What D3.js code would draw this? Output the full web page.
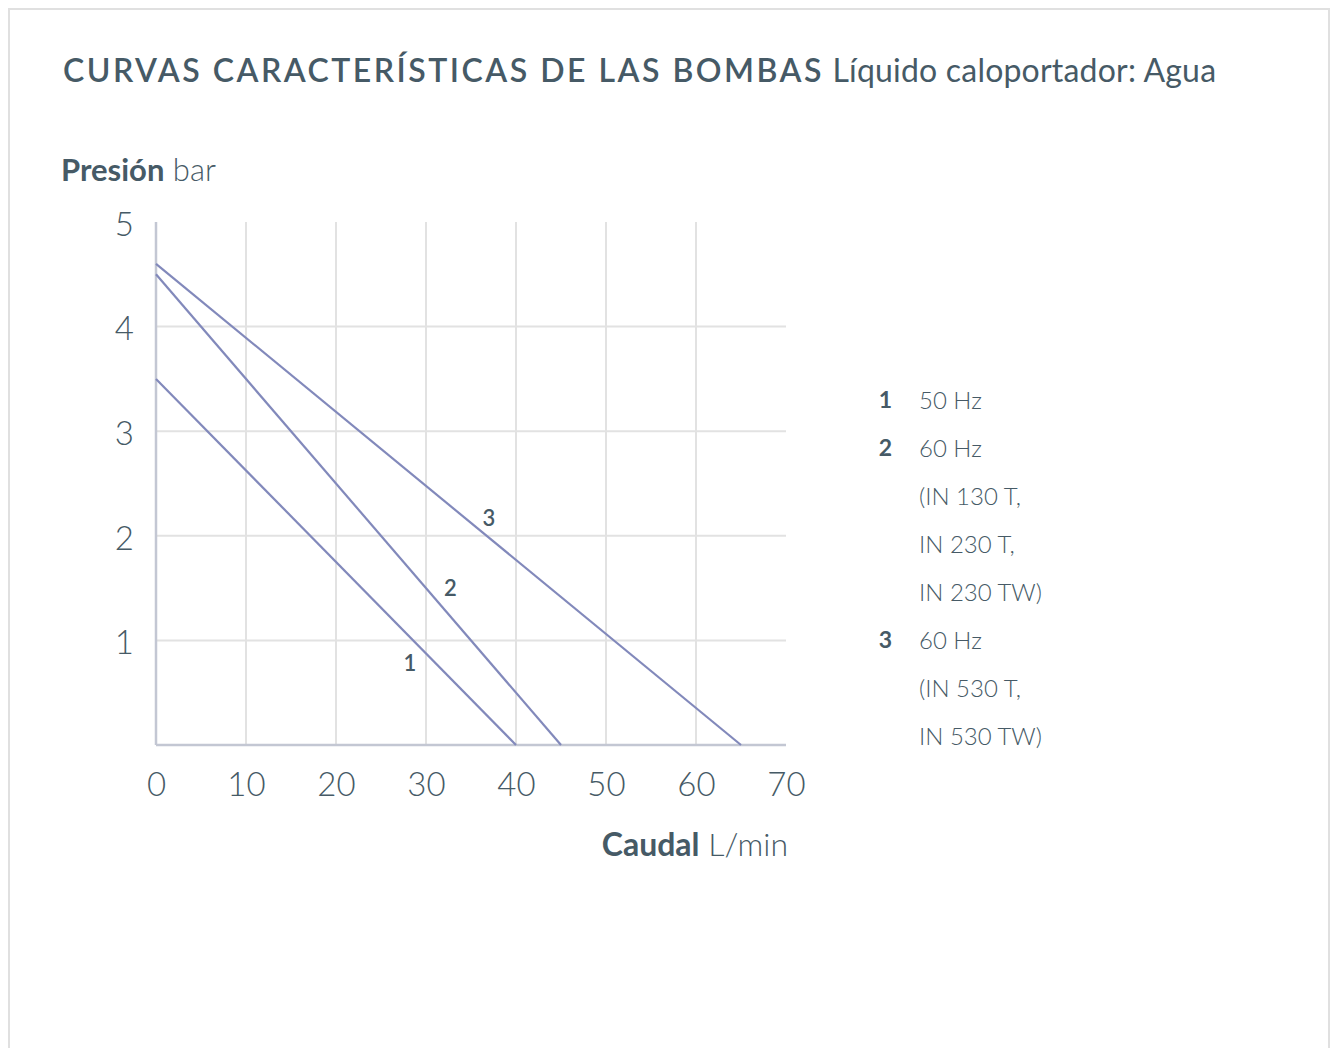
<!DOCTYPE html>
<html>
<head>
<meta charset="utf-8">
<script src="https://cdn.jsdelivr.net/npm/d3@7"></script>
<style>
  html, body { margin: 0; padding: 0; background: #fff; }
  svg { display: block; }
  text { font-family: Lato, "Open Sans", sans-serif; fill: #465a66; }
</style>
</head>
<body>
<svg id="chart" width="1336" height="1048"></svg>
<script>
// ---- data ----
const seriesIds = ["1", "2", "3"];
const seriesFlow = [[0, 40], [0, 45], [0, 65]];          // L/min
const seriesPressure = [[3.5, 0], [4.5, 0], [4.6, 0]];    // bar
const seriesLabelFlow = [28.2, 32.7, 37.0];
const seriesLabelPressure = [0.78, 1.5, 2.17];
const xTicks = [0, 10, 20, 30, 40, 50, 60, 70];
const yTicks = [1, 2, 3, 4, 5];
const legendIds = ["1", "2", "", "", "", "3", "", ""];
const legendTexts = ["50 Hz", "60 Hz", "(IN 130 T,", "IN 230 T,", "IN 230 TW)", "60 Hz", "(IN 530 T,", "IN 530 TW)"];

// ---- layout ----
const svg = d3.select("#chart");
const pLeft = 156, pRight = 786, pTop = 222, pBottom = 745;
const x = d3.scaleLinear().domain([0, 70]).range([pLeft, pRight]);
const y = d3.scaleLinear().domain([0, 5]).range([pBottom, pTop]);
const lineColor = "#8289bb";

// frame
svg.append("path")
  .attr("d", `M9,1048 V9 H1329 V1048`)
  .attr("fill", "none").attr("stroke", "#e0e0e0").attr("stroke-width", 2);

// title
const title = svg.append("text").attr("x", 63).attr("y", 82).style("font-size", "32px");
title.append("tspan").text("CURVAS CARACTERÍSTICAS DE LAS BOMBAS")
  .style("font-weight", 600).style("letter-spacing", "2.5px");
title.append("tspan").text(" Líquido caloportador: Agua").style("font-weight", 400).style("letter-spacing", "0.2px");

// y axis title
const yt = svg.append("text").attr("x", 61).attr("y", 181).style("font-size", "31px");
yt.append("tspan").text("Presión").style("font-weight", 700);
yt.append("tspan").text(" bar").style("font-weight", 300);

// x axis title
const xt = svg.append("text").attr("x", 788).attr("y", 856).attr("text-anchor", "end").style("font-size", "32px");
xt.append("tspan").text("Caudal").style("font-weight", 700);
xt.append("tspan").text(" L/min").style("font-weight", 300);

// grid
svg.append("g").selectAll("line").data(xTicks.filter(d => d > 0 && d < 70)).join("line")
  .attr("x1", d => x(d)).attr("x2", d => x(d)).attr("y1", y(5)).attr("y2", y(0))
  .attr("stroke", "#e2e2e2").attr("stroke-width", 2);
svg.append("g").selectAll("line").data(yTicks.filter(d => d < 5)).join("line")
  .attr("x1", x(0)).attr("x2", x(70)).attr("y1", d => y(d)).attr("y2", d => y(d))
  .attr("stroke", "#e2e2e2").attr("stroke-width", 2);

// axes via d3
const xAxis = svg.append("g").attr("transform", `translate(0,${pBottom})`)
  .call(d3.axisBottom(x).tickValues(xTicks).tickSize(0).tickPadding(28).tickFormat(d3.format("d")));
const yAxis = svg.append("g").attr("transform", `translate(${pLeft},0)`)
  .call(d3.axisLeft(y).tickValues(yTicks).tickSize(0).tickPadding(22).tickFormat(d3.format("d")));
[xAxis, yAxis].forEach(a => {
  a.select(".domain").attr("stroke", "#c3c7d3").attr("stroke-width", 2.5);
  a.selectAll("text").style("font-family", "Lato, sans-serif").style("font-size", "33px")
    .style("font-weight", 300).attr("fill", "#465a66");
});
yAxis.select(".domain").attr("d", `M0,${y(5)}V${y(0)}`);
xAxis.select(".domain").attr("d", `M${x(0)},0H${x(70)}`);
yAxis.selectAll("text").attr("dy", "0.4em");

// series lines
const line = d3.line().x(d => x(d[0])).y(d => y(d[1]));
seriesIds.forEach((id, i) => {
  const pts = seriesFlow[i].map((f, j) => [f, seriesPressure[i][j]]);
  svg.append("path").datum(pts).attr("d", line)
    .attr("fill", "none").attr("stroke", lineColor).attr("stroke-width", 2.2);
  svg.append("text").attr("x", x(seriesLabelFlow[i])).attr("y", y(seriesLabelPressure[i]))
    .attr("text-anchor", "middle").attr("dy", "0.36em")
    .style("font-size", "22px").style("font-weight", 600).text(id);
});

// legend
const lg = svg.append("g");
legendTexts.forEach((t, i) => {
  const yy = 400 + i * 48;
  if (legendIds[i]) {
    lg.append("text").attr("x", 892).attr("y", yy).attr("dy", "0.36em").attr("text-anchor", "end")
      .style("font-size", "23px").style("font-weight", 700).text(legendIds[i]);
  }
  lg.append("text").attr("x", 919).attr("y", yy).attr("dy", "0.36em")
    .style("font-size", "24px").style("font-weight", 300).text(t);
});
</script>
</body>
</html>
